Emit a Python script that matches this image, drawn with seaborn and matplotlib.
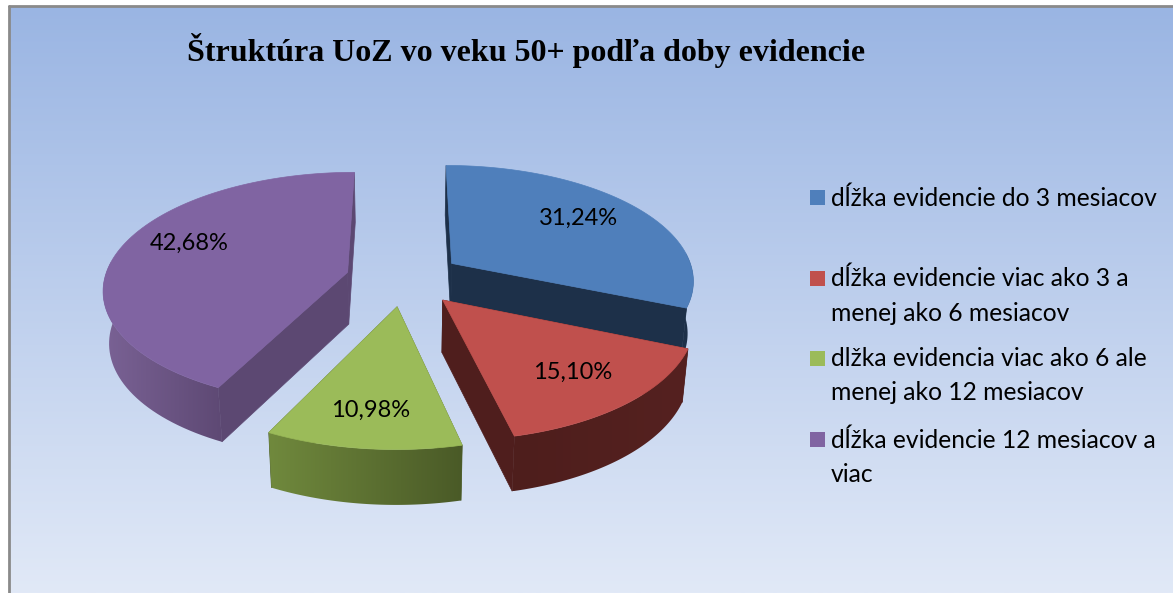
import numpy as np
import seaborn as sns
import matplotlib
matplotlib.use('Agg')
import matplotlib.pyplot as plt
from matplotlib.colors import to_rgb
from matplotlib.patches import Polygon, Rectangle

title = 'Štruktúra UoZ vo veku 50+ podľa doby evidencie'
shares = [31.24, 15.10, 10.98, 42.68]
legend_labels = ['dĺžka evidencie do 3 mesiacov',
                 'dĺžka evidencie viac ako 3 a\nmenej ako 6 mesiacov',
                 'dlžka evidencia viac ako 6 ale\nmenej ako 12 mesiacov',
                 'dĺžka evidencie 12 mesiacov a\nviac']
top_colors = ['#4f7fbb', '#c0504d', '#9bbb59', '#8064a2']
cut_colors = ['#1d3049', '#4f1e1d', '#4e5f2b', '#5c4872']
rim_left = ['#1d3049', '#4e1e1c', '#70893d', '#7a6295']
rim_right = ['#1d3049', '#552120', '#4a5a27', '#5e4974']

# layout, pixels of the picture
CX, CY = 404, 278.5
RX, RY = 243, 115
PERSP = 0.135
EXPLODE = 0.24
label_pos = [(578, 218), (573, 372), (371, 410), (189, 243)]
legend_y = [197, 278, 358, 439]

sns.set_theme(style='white')
palette = sns.color_palette(top_colors)


def project(u, v, down=False):
    s = 1 / (1 - PERSP * v)
    x = CX + RX * u * s
    y = CY + RY * v * s
    if down:
        x = CX + (x - CX) * 0.98
        y = y + 35 + 17 * s
    return x, y


fig, ax = plt.subplots(figsize=(11.73, 5.93), dpi=100)
fig.subplots_adjust(0, 0, 1, 1)
ax.axis('off')

# background
grad = np.linspace(0, 1, 256)[:, None, None]
top = np.array(to_rgb('#9ab5e3'))[None, None, :]
bottom = np.array(to_rgb('#e1e9f7'))[None, None, :]
ax.imshow(top + (bottom - top) * grad, extent=(10, 1173, 593, 7), aspect='auto', zorder=0)
ax.plot([9, 9], [593, 6], color='#8a8a8a', lw=2, zorder=1)
ax.plot([9, 1173], [6, 6], color='#8a8a8a', lw=2, zorder=1)

edges = np.concatenate([[0], np.cumsum(shares)]) / sum(shares) * 2 * np.pi
order = [3, 0, 2, 1]  # back slices first

for i in order:
    z = 2 + order.index(i)
    a0, a1 = edges[i], edges[i + 1]
    mid = (a0 + a1) / 2
    ox, oy = EXPLODE * np.sin(mid), -EXPLODE * np.cos(mid)
    th = np.linspace(a0, a1, 90)
    us = ox + np.sin(th)
    vs = oy - np.cos(th)

    # cut faces
    for a_idx in [0, -1]:
        p = [project(ox, oy), project(us[a_idx], vs[a_idx]),
             project(us[a_idx], vs[a_idx], True), project(ox, oy, True)]
        ax.add_patch(Polygon(p, closed=True, fc=cut_colors[i], ec=cut_colors[i], lw=0.5, zorder=z))

    # rim, shaded left to right through a clipped gradient
    keep = vs - oy > -0.1
    upper = [project(u, v) for u, v in zip(us[keep], vs[keep])]
    lower = [project(u, v, True) for u, v in zip(us[keep], vs[keep])]
    rim = Polygon(upper + lower[::-1], closed=True, fc='none', ec='none', transform=ax.transData)
    ax.add_patch(rim)
    xs = [p[0] for p in upper + lower]
    ys = [p[1] for p in upper + lower]
    ramp = np.linspace(0, 1, 128)[None, :, None]
    left = np.array(to_rgb(rim_left[i]))[None, None, :]
    right = np.array(to_rgb(rim_right[i]))[None, None, :]
    im = ax.imshow(left + (right - left) * ramp, extent=(min(xs), max(xs), max(ys), min(ys)),
                   aspect='auto', zorder=z + 0.2)
    im.set_clip_path(rim)

    # top face
    outline = [project(ox, oy)] + [project(u, v) for u, v in zip(us, vs)]
    ax.add_patch(Polygon(outline, closed=True, fc=palette[i], ec=palette[i], lw=0.5, zorder=z + 0.5))

    lx, ly = label_pos[i]
    txt = f'{shares[i]:.2f}'.replace('.', ',') + '%'
    ax.text(lx, ly, txt, ha='center', va='center', fontsize=17, family='Lato', color='black', zorder=10)

ax.text(187, 50, title, ha='left', va='center', fontsize=23.05, family='Liberation Serif',
        fontweight='bold', color='black', zorder=10)

for i, lab in enumerate(legend_labels):
    ax.add_patch(Rectangle((810, legend_y[i] - 7.5), 15, 15, fc=palette[i], ec='none', zorder=10))
    ax.text(831, legend_y[i] - 11, lab, ha='left', va='top', fontsize=17.75, family='Lato',
            color='black', linespacing=1.585, zorder=10)

ax.set_xlim(0, 1173)
ax.set_ylim(593, 0)
fig.savefig('out.png', dpi=100)
